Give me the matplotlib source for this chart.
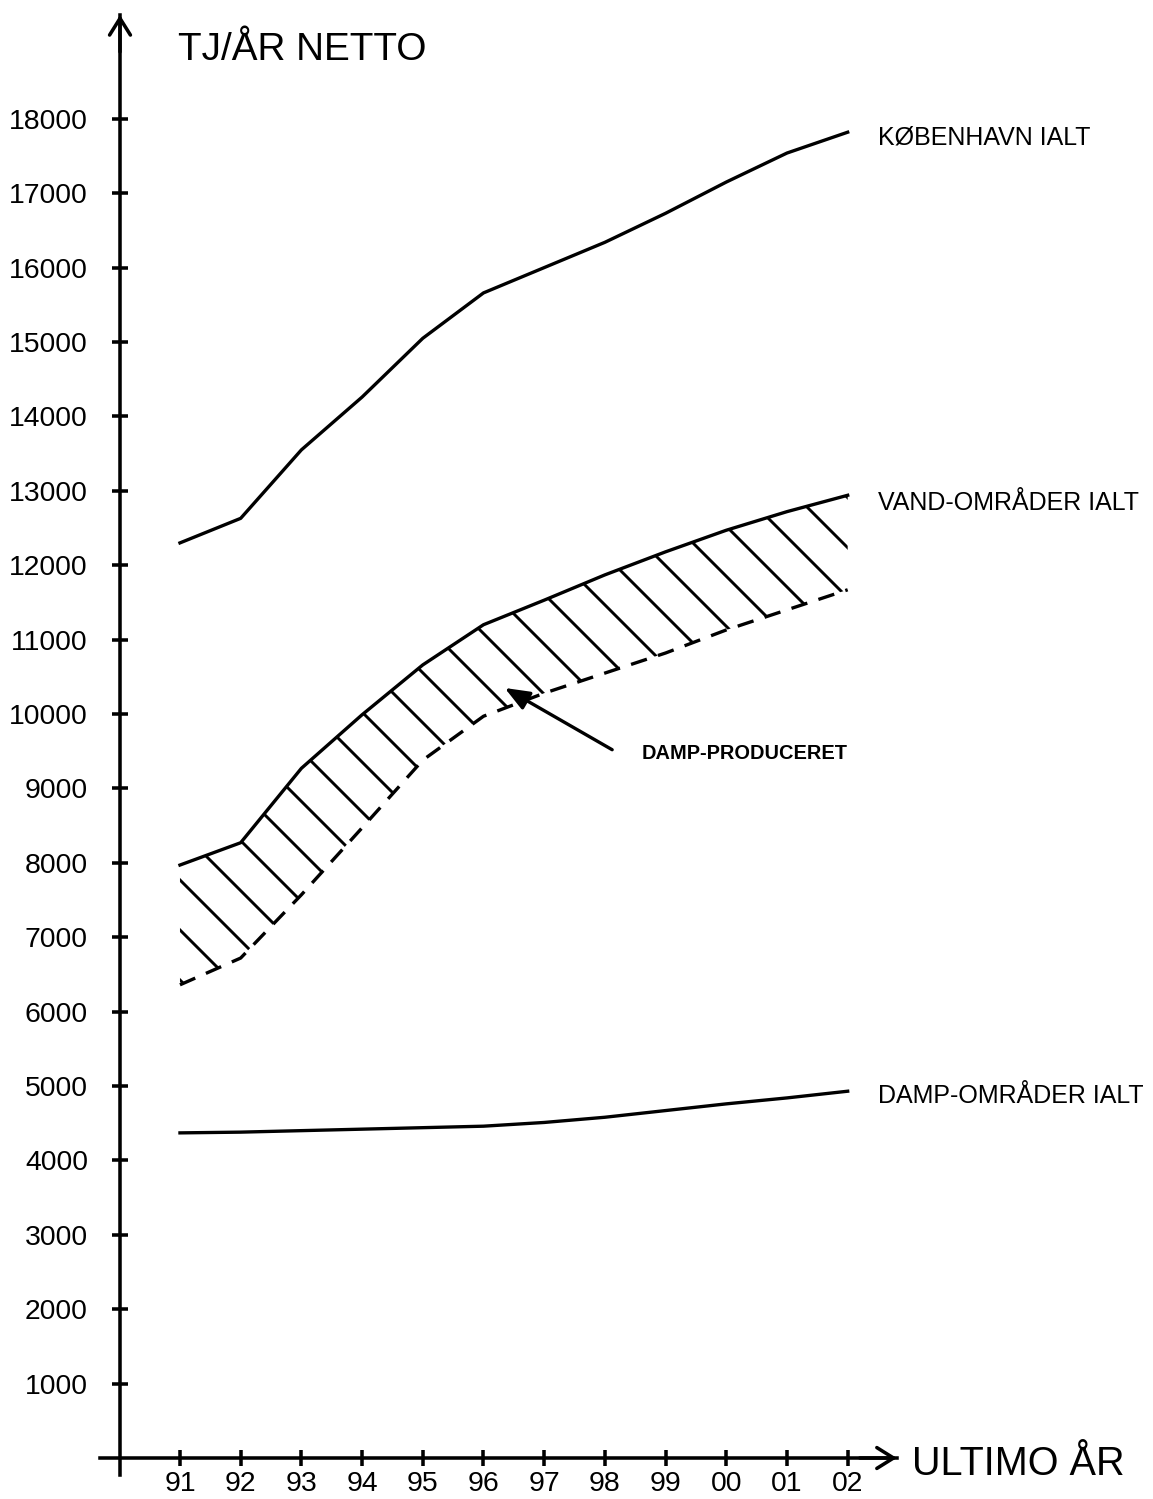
import matplotlib
matplotlib.use("Agg")
import matplotlib.pyplot as plt
import numpy as np

years = ["91", "92", "93", "94", "95", "96", "97", "98", "99", "00", "01", "02"]
kobenhavn = [12300, 12630, 13550, 14260, 15050, 15660, 16000, 16340, 16730, 17150, 17540, 17820]
vand = [7970, 8270, 9270, 9990, 10660, 11200, 11530, 11870, 12180, 12470, 12720, 12940]
vand_lower = [6360, 6720, 7570, 8470, 9380, 9970, 10280, 10550, 10820, 11130, 11400, 11670]
damp = [4370, 4380, 4400, 4420, 4440, 4460, 4510, 4580, 4670, 4760, 4840, 4930]
y_ticks = list(range(1000, 19000, 1000))

plt.rcParams['font.family'] = ['Liberation Sans', 'DejaVu Sans']
plt.rcParams['hatch.linewidth'] = 0.7
plt.rcParams['hatch.color'] = 'black'

DPI = 300
fig = plt.figure(figsize=(1153 / DPI, 1499 / DPI), dpi=DPI)
ax = fig.add_axes([0, 0, 1, 1])
ax.set_xlim(-2.965, 16.03)
ax.set_ylim(-551, 19597)

x = np.arange(len(years))
lw = 0.8
ax.plot(x, kobenhavn, color='black', lw=lw)
ax.plot(x, vand, color='black', lw=lw)
ax.plot(x, vand_lower, color='black', lw=lw, linestyle=(0, (5, 3.5)))
ax.plot(x, damp, color='black', lw=lw)
ax.fill_between(x, vand_lower, vand, facecolor='none', edgecolor='black', hatch='\\\\', linewidth=0)

# axes drawn as arrows
yaxis_x = -0.988
for side in ['top', 'right']:
    ax.spines[side].set_visible(False)
ax.spines['left'].set_position(('data', yaxis_x))
ax.spines['bottom'].set_position(('data', 0))
ax.spines['left'].set_bounds(-228, 19395)
ax.spines['bottom'].set_bounds(-1.318, 11.81)
ax.spines['left'].set_linewidth(0.85)
ax.spines['bottom'].set_linewidth(0.85)
ax.annotate('', xy=(yaxis_x, 19395), xytext=(yaxis_x, 18900),
            arrowprops=dict(arrowstyle='->, head_length=0.4, head_width=0.25', lw=0.85, color='black',
                            shrinkA=0, shrinkB=0))
ax.annotate('', xy=(11.81, 0), xytext=(11.2, 0),
            arrowprops=dict(arrowstyle='->, head_length=0.4, head_width=0.25', lw=0.85, color='black',
                            shrinkA=0, shrinkB=0))

ax.set_yticks(y_ticks)
ax.set_yticklabels([str(v) for v in y_ticks])
ax.set_xticks(x)
ax.set_xticklabels(years)
ax.tick_params(axis='both', direction='inout', length=3.8, width=0.85, labelsize=6.8)
ax.tick_params(axis='y', pad=5.8)
ax.tick_params(axis='x', pad=1.2)

ax.text(-0.03, 18790, "TJ/ÅR NETTO", fontsize=9.3, ha='left', va='baseline')
ax.text(12.06, -228, "ULTIMO ÅR", fontsize=9.5, ha='left', va='baseline')
ax.text(11.5, 17650, "KØBENHAVN IALT", fontsize=6.0, ha='left', va='baseline')
ax.text(11.5, 12740, "VAND-OMRÅDER IALT", fontsize=6.0, ha='left', va='baseline')
ax.text(11.5, 4770, "DAMP-OMRÅDER IALT", fontsize=6.0, ha='left', va='baseline')
ax.text(7.61, 9400, "DAMP-PRODUCERET", fontsize=4.8, fontweight='bold', ha='left', va='baseline')
ax.annotate('', xy=(5.35, 10350), xytext=(7.12, 9520),
            arrowprops=dict(arrowstyle='-|>, head_length=0.5, head_width=0.2', lw=0.8, color='black',
                            shrinkA=0, shrinkB=0))

fig.savefig("out.png", dpi=DPI)
